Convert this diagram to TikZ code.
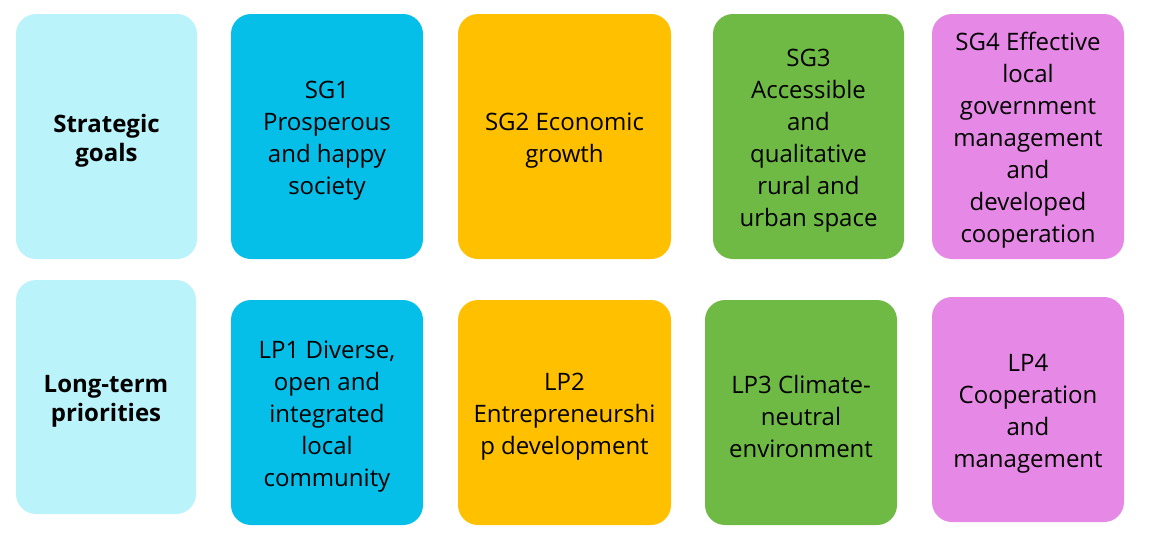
\documentclass[tikz,border=0pt]{standalone}
\usepackage{fontspec}
\setmainfont{Open Sans}
\definecolor{cLabel}{HTML}{BBF3FB}
\definecolor{cOne}{HTML}{05BFE9}
\definecolor{cTwo}{HTML}{FFC000}
\definecolor{cThree}{HTML}{6FBA45}
\definecolor{cFour}{HTML}{E688E5}
\tikzset{
  box/.style={rounded corners=20pt, inner sep=0pt},
  txt/.style={inner sep=0pt, align=center, text=black, font=\fontsize{24}{32}\selectfont},
  ltxt/.style={txt, font=\fontsize{24}{29}\selectfont\bfseries},
}
\begin{document}
\begin{tikzpicture}[x=1pt,y=-1pt]
\useasboundingbox (0,0) rectangle (1151,550);
% row 1
\node[box, fill=cLabel, minimum width=181pt, minimum height=245pt] (sgl) at (106.5,136.5) {};
\node[box, fill=cOne, minimum width=192pt, minimum height=245pt] (sg1) at (327,136.5) {};
\node[box, fill=cTwo, minimum width=213pt, minimum height=245pt] (sg2) at (564.5,136.5) {};
\node[box, fill=cThree, minimum width=191pt, minimum height=245pt] (sg3) at (808.5,136.5) {};
\node[box, fill=cFour, minimum width=192pt, minimum height=245pt] (sg4) at (1028,136.5) {};
\node[ltxt] (sglt) at ([yshift=-4pt]sgl.center) {Strategic\\goals};
\node[txt] (sg1t) at ([yshift=-4pt]sg1.center) {SG1\\Prosperous\\and happy\\society};
\node[txt] (sg2t) at ([yshift=-4pt]sg2.center) {SG2 Economic\\growth};
\node[txt] (sg3t) at ([yshift=-4pt]sg3.center) {SG3\\Accessible\\and\\qualitative\\rural and\\urban space};
\node[txt] (sg4t) at ([yshift=-4pt]sg4.center) {SG4 Effective\\local\\government\\management\\and\\developed\\cooperation};
% row 2
\node[box, fill=cLabel, minimum width=180pt, minimum height=234pt] (lpl) at (106,397) {};
\node[box, fill=cOne, minimum width=192pt, minimum height=225pt] (lp1) at (327,412.5) {};
\node[box, fill=cTwo, minimum width=213pt, minimum height=225pt] (lp2) at (564.5,412.5) {};
\node[box, fill=cThree, minimum width=192pt, minimum height=225pt] (lp3) at (801,412.5) {};
\node[box, fill=cFour, minimum width=192pt, minimum height=225pt] (lp4) at (1028,409.5) {};
\node[ltxt] (lplt) at ([yshift=-4pt]lpl.center) {Long-term\\priorities};
\node[txt] (lp1t) at ([yshift=-4pt]lp1.center) {LP1 Diverse,\\open and\\integrated\\local\\community};
\node[txt] (lp2t) at ([yshift=-4pt]lp2.center) {LP2\\Entrepreneurshi\\p development};
\node[txt] (lp3t) at ([yshift=-4pt]lp3.center) {LP3 Climate-\\neutral\\environment};
\node[txt] (lp4t) at ([yshift=-4pt]lp4.center) {LP4\\Cooperation\\and\\management};
\end{tikzpicture}
\end{document}
